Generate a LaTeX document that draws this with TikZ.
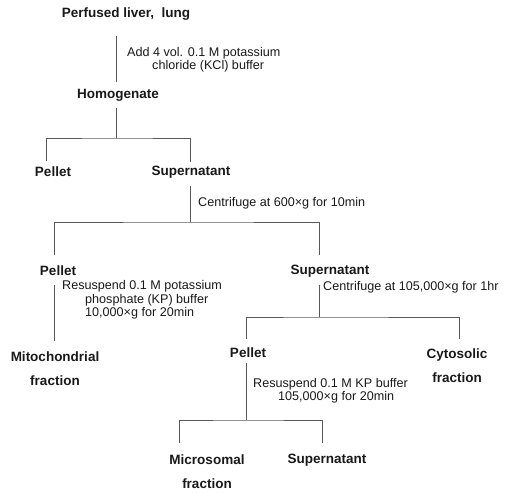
\documentclass[tikz,border=0pt]{standalone}
\usepackage{fontspec}
\setmainfont{Liberation Sans}
\begin{document}
\begin{tikzpicture}[x=1pt,y=1pt,
  nd/.style={inner sep=0pt, font=\fontsize{13.5}{24}\selectfont\bfseries, align=center, text=black!90},
  lb/.style={inner sep=0pt, font=\fontsize{12.6}{13.3}\selectfont, align=left, anchor=west, text=black!90},
  ln/.style={draw=black!65, line width=0.9pt}]
\useasboundingbox (0,0) rectangle (513,-494);
% nodes
\node[nd] (perf) at (126,-14) {Perfused liver,\ \ lung};
\node[lb] (l1) at (127,-59.5) {Add 4 vol. 0.1 M potassium\\\hspace*{25pt}chloride (KCl) buffer};
\node[nd] (homo) at (118,-95) {Homogenate};
\node[nd] (p1) at (53,-172) {Pellet};
\node[nd] (s1) at (191,-172) {Supernatant};
\node[lb] (l2) at (198,-203) {Centrifuge at 600×g for 10min};
\node[nd] (p2) at (58,-271) {Pellet};
\node[nd] (s2) at (330,-271) {Supernatant};
\node[lb] (l3) at (62,-300) {Resuspend 0.1 M potassium\\\hspace*{23pt}phosphate (KP) buffer\\\hspace*{23pt}10,000×g for 20min};
\node[lb] (l4) at (323,-287) {Centrifuge at 105,000×g for 1hr};
\node[nd] (mito) at (55,-369) {Mitochondrial\\fraction};
\node[nd] (p3) at (248,-353) {Pellet};
\node[nd] (cyto) at (457,-366) {Cytosolic\\fraction};
\node[lb] (l5) at (253,-391) {Resuspend 0.1 M KP buffer\\\hspace*{25pt}105,000×g for 20min};
\node[nd] (micro) at (207,-472) {Microsomal\\fraction};
\node[nd] (s3) at (327,-460) {Supernatant};
% connector coordinates
\coordinate (a1) at (116,-36);  \coordinate (a2) at (116,-82);
\coordinate (b1) at (116,-108); \coordinate (b2) at (116,-138);
\coordinate (bl) at (46,-161);  \coordinate (br) at (190,-162);
\coordinate (c1) at (190,-186); \coordinate (c2) at (190,-222);
\coordinate (cl) at (54,-255);  \coordinate (cr) at (319,-255);
\coordinate (d1) at (54,-285);  \coordinate (d2) at (54,-341);
\coordinate (e1) at (319,-285); \coordinate (e2) at (319,-317);
\coordinate (el) at (246,-339); \coordinate (er) at (459,-339);
\coordinate (f1) at (246,-363); \coordinate (f2) at (246,-420);
\coordinate (fl) at (179,-443); \coordinate (fr) at (322,-443);
% connectors
\draw[ln] (a1) -- (a2);
\draw[ln] (b1) -- (b2);
\draw[ln] (bl) |- (b2) -| (br);
\draw[ln] (c1) -- (c2);
\draw[ln] (cl) |- (c2) -| (cr);
\draw[ln] (d1) -- (d2);
\draw[ln] (e1) -- (e2);
\draw[ln] (el) |- (e2) -| (er);
\draw[ln] (f1) -- (f2);
\draw[ln] (fl) |- (f2) -| (fr);
\end{tikzpicture}
\end{document}
